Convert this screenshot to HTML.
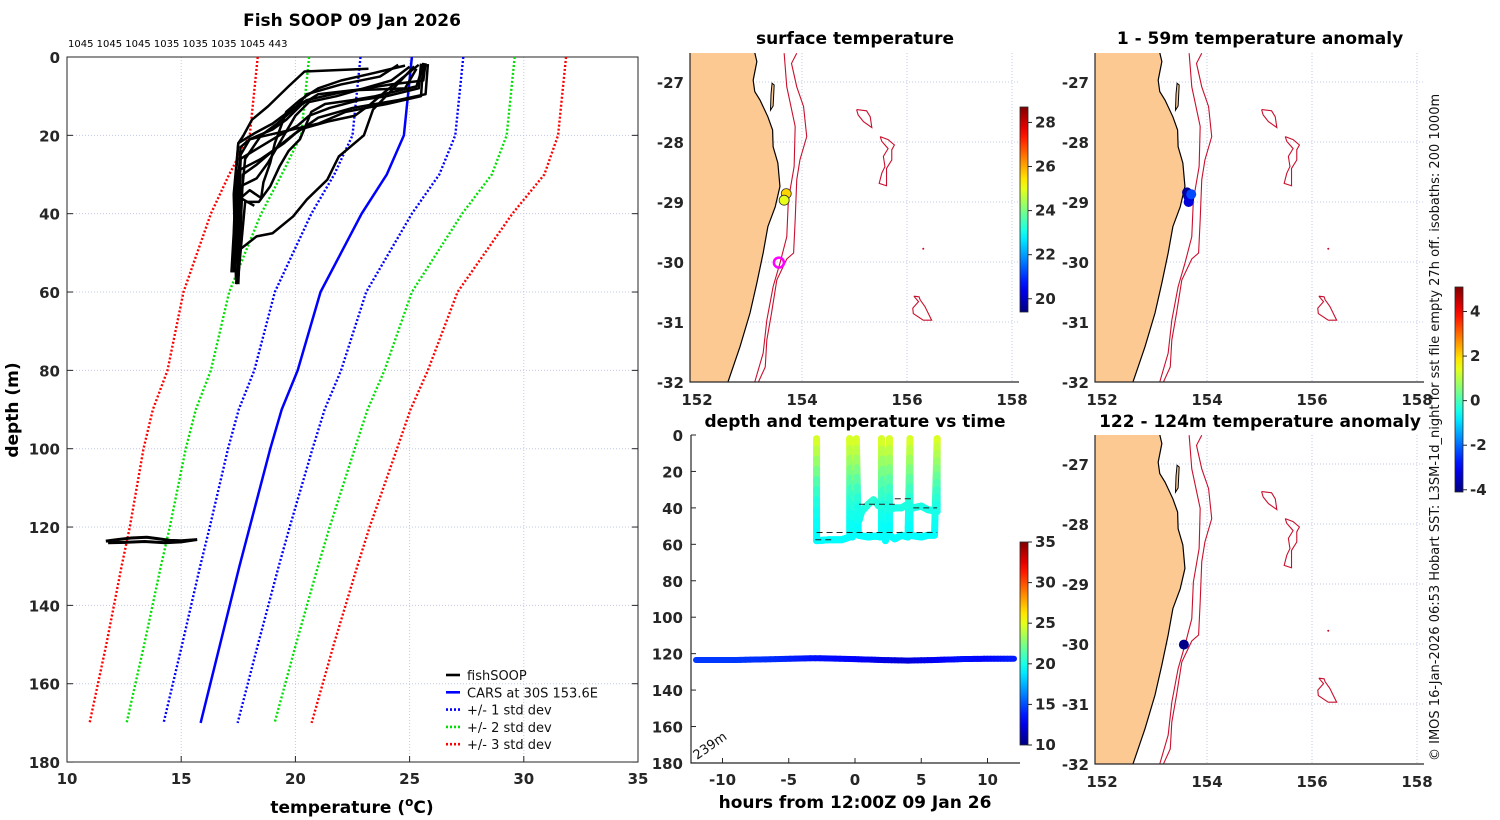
<!DOCTYPE html>
<html><head><meta charset="utf-8"><style>
html,body{margin:0;padding:0;background:#fff;}
svg{display:block;font-family:"DejaVu Sans","Liberation Sans",sans-serif;}
.tk{font-weight:bold;font-size:15px;fill:#262626;}
.tt{font-weight:bold;font-size:17px;fill:#000;}
</style></head><body>
<svg id="fig" xmlns="http://www.w3.org/2000/svg" width="1500" height="820" viewBox="0 0 1500 820">
<text class="tt" x="352" y="26" text-anchor="middle">Fish SOOP 09 Jan 2026</text>
<text x="68" y="47" font-size="10" fill="#000">1045 1045 1045 1035 1035 1035 1045 443</text>
<text class="tt" x="855" y="44" text-anchor="middle">surface temperature</text>
<text class="tt" x="1260" y="44" text-anchor="middle">1 - 59m temperature anomaly</text>
<text class="tt" x="855" y="427" text-anchor="middle">depth and temperature vs time</text>
<text class="tt" x="1260" y="427" text-anchor="middle">122 - 124m temperature anomaly</text>
<text class="tt" x="352" y="813" text-anchor="middle">temperature (<tspan dy="-7" font-size="12">o</tspan><tspan dy="7">C)</tspan></text>
<text class="tt" x="0" y="0" transform="translate(18,410) rotate(-90)" text-anchor="middle">depth (m)</text>
<text class="tt" x="855" y="808" text-anchor="middle">hours from 12:00Z 09 Jan 26</text>
<text x="0" y="0" font-size="13" fill="#111" transform="translate(1439,761) rotate(-90)">© IMOS 16-Jan-2026 06:53 Hobart SST: L3SM-1d_night for  sst file empty 27h off. isobaths: 200  1000m</text>
<text x="0" y="0" font-size="13" fill="#111" transform="translate(697,760) rotate(-35)">239m</text>
</svg>
<script>
// ---------- data: main profile panel ----------
const carsDepth = [0,20,30,40,50,60,80,90,100,120,130,150,170];
const carsTemp  = [25.1,24.75,24.0,22.9,22.0,21.1,20.1,19.4,18.9,18.0,17.55,16.7,15.85];
const carsStd   = [2.25,2.25,2.3,2.2,2.1,2.0,1.9,1.88,1.85,1.75,1.72,1.66,1.62];
const xTicks = [10,15,20,25,30,35];
const yTicks = [0,20,40,60,80,100,120,140,160,180];
const profiles = [
 [[23.2,3],[20.4,3.7],[19.7,7.5],[18.8,12.6],[18.1,16],[17.7,20.3],[17.5,22],[17.4,30],[17.3,45],[17.2,55]],
 [[25.2,2.4],[24.1,9.2],[23.4,13.4],[23.0,20],[21.9,25.4],[21.4,31.3],[20.5,36.4],[19.9,40.7],[19.0,45],[18.3,45.8],[17.6,49],[17.4,58]],
 [[25.6,1.5],[25.5,10],[24.0,12],[22.2,14],[21.0,17],[19.5,19],[18.0,21],[17.6,23],[17.4,40],[17.5,56]],
 [[25.3,3],[24.8,8],[22.5,8.5],[21.0,9.5],[20.3,12],[19.6,16],[19.0,18.5],[18.0,21],[17.6,25],[17.5,50]],
 [[24.5,2],[23.7,5],[22.0,7],[20.5,9.5],[20.0,13],[19.2,17],[18.5,20],[17.8,26],[17.5,44]],
 [[25.5,1.7],[25.4,8],[24.0,10],[22.8,11],[21.5,13],[20.6,15],[20.1,17.5],[19.3,20],[18.3,23.5],[17.6,26],[17.4,52]],
 [[25.8,1.8],[25.7,9.5],[24.5,11],[22.5,13],[21.0,15.5],[20.0,19.5],[19.5,22],[18.5,26],[17.5,29],[17.3,55]],
 [[25.0,2.5],[24.2,6],[23.0,8],[21.8,10],[20.6,11.5],[20.0,15],[19.6,19],[19.2,23],[18.8,27],[18.3,31],[17.6,33],[17.4,48]],
 [[24.8,2.2],[23.5,4],[22.0,6],[21.0,8],[20.2,11],[19.6,14],[19.1,22],[18.9,27],[18.6,32],[18.5,36],[18.0,34],[17.6,36],[18.2,38]],
 [[25.6,2],[25.3,7.5],[23.5,10],[22.5,11],[21.3,12],[20.7,14],[20.2,21],[19.7,24],[19.3,28],[18.9,33],[18.4,37],[17.8,37],[17.5,56]],
 [[25.4,2],[24.0,8.5],[23.3,12],[22.6,15],[21.4,16.5],[20.2,18.5],[19.0,24],[18.3,27.5],[17.7,30],[17.5,58]],
 [[25.7,1.6],[25.6,6],[24.2,7],[22.0,9],[20.5,11],[19.8,13.5],[19.0,17],[18.2,19.5],[17.5,22],[17.3,35],[17.4,57]]
];
const deepT = [11.7,12.2,12.8,13.5,14.0,14.5,15.0,15.7,15.0,14.3,13.4,12.6,11.8];
const deepD = [123.6,123.2,122.8,122.6,123.0,123.4,123.5,123.2,123.8,124.0,123.7,123.9,124.0];

// ---------- data: time panel ----------
const trackT = [-2.9,-2.9,-2.0,-1.0,-0.4,-0.4,-0.2,0.1,0.25,1.0,1.5,2.0,2.0,2.3,2.6,2.6,3.0,3.5,4.0,4.15,4.15,5.0,5.5,6.0,6.2,6.2];
const trackD = [2,58,57.5,57.5,56,2,56,2,55,56,55.5,56,2,58,2,55,57,55,56,2,55,56,55,55,2,42];
const track2T = [0.3,0.5,1.0,1.4,1.8,2.3,2.6,3.0,3.5,4.0,4.4,5.0,5.5,6.2];
const track2D = [47,42,38,35.5,39,38,41,40,40,38,40,39,41,42];
const profDepth = [0,10,20,30,40,50,60];
const profTemp  = [25.2,24.0,22.5,21.0,20.0,19.5,19.3];
const bottomT = [-12,-9,-6,-3,0,2,4,6,8,10,12];
const bottomD = [123.5,123.5,123,122.5,123,123.5,123.8,123.5,123,122.8,122.8];
const bottomTemp = [14.5,14.5,14.2,13.5,13.2,12.5,12.2,12.8,13.5,13.2,13.8];
const timeXTicks = [-10,-5,0,5,10];
const timeYTicks = [0,20,40,60,80,100,120,140,160,180];
const dashLevels = [[-2.9,6.2,53.5],[-3.0,-1.5,57.5],[0.3,3.0,38],[3.0,4.5,35],[4.4,6.2,40]];

// ---------- data: maps ----------
const coastLon = [153.10,153.14,153.07,153.10,153.2,153.35,153.44,153.45,153.54,153.58,153.49,153.35,153.26,153.14,153.01,152.82,152.59];
const coastLat = [-26.51,-26.66,-26.97,-27.16,-27.3,-27.58,-27.8,-28.08,-28.35,-28.74,-29.08,-29.41,-29.85,-30.35,-30.85,-31.41,-32.0];
const iso1Lon = [153.66,153.71,153.87,153.85,153.74,153.71,153.58,153.45,153.33,153.26,153.10];
const iso1Lat = [-26.52,-27.08,-27.74,-28.41,-28.97,-29.58,-30.02,-30.41,-30.97,-31.52,-32.0];
const iso2Lon = [153.90,153.80,153.90,154.03,154.09,153.96,153.90,153.87,153.84,153.71,153.52,153.42,153.33,153.30,153.17];
const iso2Lat = [-26.52,-26.69,-27.08,-27.41,-27.91,-28.3,-28.63,-29.3,-29.85,-29.95,-30.3,-30.85,-31.3,-31.75,-32.0];
const smALon = [155.04,155.23,155.30,155.33,155.17,155.07,155.04];
const smALat = [-27.46,-27.48,-27.58,-27.76,-27.66,-27.55,-27.46];
const smBLon = [155.49,155.64,155.76,155.71,155.71,155.61,155.61,155.47,155.52,155.58,155.55,155.64,155.52,155.49];
const smBLat = [-27.91,-27.96,-28.05,-28.13,-28.30,-28.44,-28.73,-28.69,-28.52,-28.41,-28.24,-28.11,-27.99,-27.91];
const smCLon = [156.13,156.23,156.25,156.34,156.47,156.31,156.12,156.11,156.22,156.13];
const smCLat = [-30.57,-30.58,-30.63,-30.74,-30.97,-30.97,-30.86,-30.77,-30.66,-30.57];
const islandLon = [153.43,153.47,153.45,153.40,153.41];
const islandLat = [-27.02,-27.05,-27.40,-27.47,-27.20];
const sstLon = [153.70,153.66];
const sstLat = [-28.86,-28.97];
const sstVal = [25.6,25.0];
const anom1Lon = [153.62,153.64,153.66,153.65,153.70];
const anom1Lat = [-28.84,-28.9,-28.95,-29.0,-28.87];
const anom1Val = [-3.9,-3.7,-3.4,-3.3,-2.3];
const anom2Lon = [153.56];
const anom2Lat = [-30.01];
const anom2Val = [-4.0];
const lonTicks = [152,154,156,158];
const latTicks = [-27,-28,-29,-30,-31,-32];

const NS='http://www.w3.org/2000/svg';
const svg=document.getElementById('fig');
function el(tag,attrs,parent){const e=document.createElementNS(NS,tag);for(const k in attrs)e.setAttribute(k,attrs[k]);(parent||svg).appendChild(e);return e;}
function jet(t){t=Math.max(0,Math.min(1,t));const c=v=>Math.round(255*Math.max(0,Math.min(1,v)));return `rgb(${c(1.5-Math.abs(4*t-3))},${c(1.5-Math.abs(4*t-2))},${c(1.5-Math.abs(4*t-1))})`;}
function interp(xs,ys,x){if(x<=xs[0])return ys[0];for(let i=1;i<xs.length;i++){if(x<=xs[i]){const f=(x-xs[i-1])/(xs[i]-xs[i-1]);return ys[i-1]+f*(ys[i]-ys[i-1]);}}return ys[ys.length-1];}

// ===== main profile panel =====
const X=t=>67+(t-10)*22.84, Y=d=>57+d*3.917;
for(const t of xTicks.slice(1,-1)){const g=el('line',{x1:X(t),x2:X(t),y1:57,y2:762,stroke:'#c3c8e6','stroke-width':1,'stroke-dasharray':'1,2'});

}
for(const d of yTicks.slice(1,-1)){const g=el('line',{x1:67,x2:638,y1:Y(d),y2:Y(d),stroke:'#c3c8e6','stroke-width':1,'stroke-dasharray':'1,2'});

}
const box=el('rect',{x:67,y:57,width:571,height:705,fill:'none',stroke:'#262626','stroke-width':1});


for(const t of xTicks){const tl=el('text',{x:X(t),y:784,'text-anchor':'middle',class:'tk'});tl.textContent=t;


const tm=el('line',{x1:X(t),x2:X(t),y1:762,y2:756,stroke:'#262626'});

}
for(const d of yTicks){const tl=el('text',{x:60,y:Y(d)+6,'text-anchor':'end',class:'tk'});tl.textContent=d;


const tm=el('line',{x1:67,x2:73,y1:Y(d),y2:Y(d),stroke:'#262626'});


const tm2=el('line',{x1:632,x2:638,y1:Y(d),y2:Y(d),stroke:'#262626'});

}
const sdCols={1:'#0000ff',2:'#00e000',3:'#ff0000'};
for(const k of [3,2,1]){for(const s of [-1,1]){
 const pts=carsDepth.map((d,i)=>`${X(carsTemp[i]+s*k*carsStd[i])},${Y(d)}`).join(' ');
 const pl=el('polyline',{points:pts,fill:'none',stroke:sdCols[k],'stroke-width':2.4,'stroke-dasharray':'2,2'});
 
 }}
const cars=el('polyline',{points:carsDepth.map((d,i)=>`${X(carsTemp[i])},${Y(d)}`).join(' '),fill:'none',stroke:'#0000ff','stroke-width':2.5});


profiles.forEach(p=>{const pl=el('polyline',{points:p.map(q=>`${X(q[0])},${Y(q[1])}`).join(' '),fill:'none',stroke:'#000','stroke-width':2.5,'stroke-linejoin':'round'});

});
const deep=el('polyline',{points:deepT.map((t,i)=>`${X(t)},${Y(deepD[i])}`).join(' '),fill:'none',stroke:'#000','stroke-width':3});


const leg=[['fishSOOP','#000','none'],['CARS at 30S 153.6E','#0000ff','none'],['+/- 1 std dev','#0000ff','2,2'],['+/- 2 std dev','#00e000','2,2'],['+/- 3 std dev','#ff0000','2,2']];
leg.forEach((L,i)=>{const y=675+i*17.3;
const ln=el('line',{x1:446,x2:460,y1:y,y2:y,stroke:L[1],'stroke-width':2.6,'stroke-dasharray':L[2]});


const tx=el('text',{x:467,y:y+5,'font-size':13,fill:'#111'});tx.textContent=L[0];

});

// ===== colorbars =====
const defs=el('defs',{});
function grad(id){const g=el('linearGradient',{id,x1:0,y1:1,x2:0,y2:0},defs);for(let i=0;i<=20;i++)el('stop',{offset:i/20,'stop-color':jet(i/20)},g);}
grad('jetg');
function cbar(x,y0,y1,ticks,vmin,vmax,name){
 const r=el('rect',{x,y:y0,width:8,height:y1-y0,fill:'url(#jetg)',stroke:'#262626','stroke-width':0.8});
 
 
 for(const v of ticks){const y=y1-(v-vmin)/(vmax-vmin)*(y1-y0);
  const tm=el('line',{x1:x+8,x2:x+12,y1:y,y2:y,stroke:'#262626'});
  
  
  const t=el('text',{x:x+15,y:y+5,class:'tk','font-size':14});t.textContent=v;
  
  }}
cbar(1020,107,312,[20,22,24,26,28],19.4,28.7,'sst-colorbar');
cbar(1020,542,745,[10,15,20,25,30,35],10,35,'time-colorbar');
cbar(1455,287,492,[-4,-2,0,2,4],-4.1,5.1,'anomaly-colorbar');

// ===== maps =====
function mapPanel(x152,y27,name,markLon,markLat,markVal,vmin,vmax,ring){
 const MX=l=>x152+(l-152)*52.5, MY=l=>y27-(l+27)*60;
 const L=x152-7,R=x152+322,T=y27-29,B=y27+300;
 const cid='clip'+name;
 const cp=el('clipPath',{id:cid},defs);el('rect',{x:L,y:T,width:R-L,height:B-T},cp);
 const g=el('g',{'clip-path':`url(#${cid})`});
 
 
 for(const lo of lonTicks.slice(1)){const l=el('line',{x1:MX(lo),x2:MX(lo),y1:T,y2:B,stroke:'#c3c8e6','stroke-dasharray':'1,2'},g);
 
 }
 for(const la of latTicks.slice(0,-1)){const l=el('line',{x1:L,x2:R,y1:MY(la),y2:MY(la),stroke:'#c3c8e6','stroke-dasharray':'1,2'},g);
 
 }
 const land=el('polygon',{points:`${L-2},${T-2} `+coastLon.map((c,i)=>`${MX(c)},${MY(coastLat[i])}`).join(' ')+` ${MX(152.5)},${B+2} ${L-2},${B+2}`,fill:'#fcc993',stroke:'none'},g);
 
 
 const coast=el('polyline',{points:coastLon.map((c,i)=>`${MX(c)},${MY(coastLat[i])}`).join(' '),fill:'none',stroke:'#000','stroke-width':1.2},g);
 
 
 const isl=el('polygon',{points:islandLon.map((c,i)=>`${MX(c)},${MY(islandLat[i])}`).join(' '),fill:'#fcc993',stroke:'#000','stroke-width':1},g);
 
 
 for(const [lo,la,nm] of [[iso1Lon,iso1Lat,'isobath-200m'],[iso2Lon,iso2Lat,'isobath-1000m'],[smALon,smALat,'seamount-contour'],[smBLon,smBLat,'seamount-contour'],[smCLon,smCLat,'seamount-contour']]){
  const p=el('polyline',{points:lo.map((c,i)=>`${MX(c)},${MY(la[i])}`).join(' '),fill:'none',stroke:'#c8102e','stroke-width':1.1},g);
  
  }
 const dot=el('circle',{cx:MX(156.31),cy:MY(-29.78),r:1,fill:'#c8102e'},g);
 
 
 markLon.forEach((lo,i)=>{const c=el('circle',{cx:MX(lo),cy:MY(markLat[i]),r:5,fill:jet((markVal[i]-vmin)/(vmax-vmin)),stroke:ring?'#333':'none','stroke-width':0.8},g);
 
 });
 if(ring){const rg=el('circle',{cx:MX(153.56),cy:MY(-30.01),r:5,fill:'none',stroke:'#ff00ff','stroke-width':2.5},g);
 
 }
 const ax=el('polyline',{points:`${L},${T} ${L},${B} ${R},${B}`,fill:'none',stroke:'#262626','stroke-width':1.2});
 
 
 for(const lo of lonTicks){const t=el('text',{x:MX(lo),y:B+23,'text-anchor':'middle',class:'tk'});t.textContent=lo;
 
 }
 for(const la of latTicks){const t=el('text',{x:L-6,y:MY(la)+6,'text-anchor':'end',class:'tk'});t.textContent=la;
 
 }
}
mapPanel(697,82,'surface-temp-map',sstLon,sstLat,sstVal,19.4,28.7,true);
mapPanel(1102,82,'anomaly-map-1',anom1Lon,anom1Lat,anom1Val,-4.1,5.1,false);
mapPanel(1102,464,'anomaly-map-2',anom2Lon,anom2Lat,anom2Val,-4.1,5.1,false);

// ===== time panel =====
const TX=h=>855+h*13.25, TY=d=>435+d*1.822;
const tax=el('polyline',{points:`691,435 691,763 1020,763`,fill:'none',stroke:'#262626','stroke-width':1.2});


for(const h of timeXTicks){const t=el('text',{x:TX(h),y:785,'text-anchor':'middle',class:'tk'});t.textContent=h;


const tm=el('line',{x1:TX(h),x2:TX(h),y1:763,y2:758,stroke:'#262626'});

}
for(const d of timeYTicks){const t=el('text',{x:683,y:TY(d)+6,'text-anchor':'end',class:'tk'});t.textContent=d;


const tm=el('line',{x1:691,x2:696,y1:TY(d),y2:TY(d),stroke:'#262626'});

}
function drawTrack(ts,ds,name){
 for(let i=1;i<ts.length;i++){const n=10;for(let j=0;j<n;j++){
  const f0=j/n,f1=(j+1)/n;const t0=ts[i-1]+(ts[i]-ts[i-1])*f0,t1=ts[i-1]+(ts[i]-ts[i-1])*f1,d0=ds[i-1]+(ds[i]-ds[i-1])*f0,d1=ds[i-1]+(ds[i]-ds[i-1])*f1;
  const temp=interp(profDepth,profTemp,(d0+d1)/2);
  const s=el('line',{x1:TX(t0),y1:TY(d0),x2:TX(t1),y2:TY(d1),stroke:jet((temp-10)/25),'stroke-width':7,'stroke-linecap':'round'});
  
  }}}
drawTrack(trackT,trackD,'yoyo-track-segment');
drawTrack(track2T,track2D,'yoyo-track-segment');
for(let i=1;i<bottomT.length;i++){const n=8;for(let j=0;j<n;j++){
 const f0=j/n,f1=(j+1)/n;const tm=(bottomTemp[i-1]+(bottomTemp[i]-bottomTemp[i-1])*(f0+f1)/2);
 const s=el('line',{x1:TX(bottomT[i-1]+(bottomT[i]-bottomT[i-1])*f0),y1:TY(bottomD[i-1]+(bottomD[i]-bottomD[i-1])*f0),x2:TX(bottomT[i-1]+(bottomT[i]-bottomT[i-1])*f1),y2:TY(bottomD[i-1]+(bottomD[i]-bottomD[i-1])*f1),stroke:jet((tm-10)/25),'stroke-width':6,'stroke-linecap':'round'});
 
 }}
dashLevels.forEach(L=>{const l=el('line',{x1:TX(L[0]),x2:TX(L[1]),y1:TY(L[2]),y2:TY(L[2]),stroke:'#222','stroke-width':1,'stroke-dasharray':'6,4'});

});
</script>
</body></html>
